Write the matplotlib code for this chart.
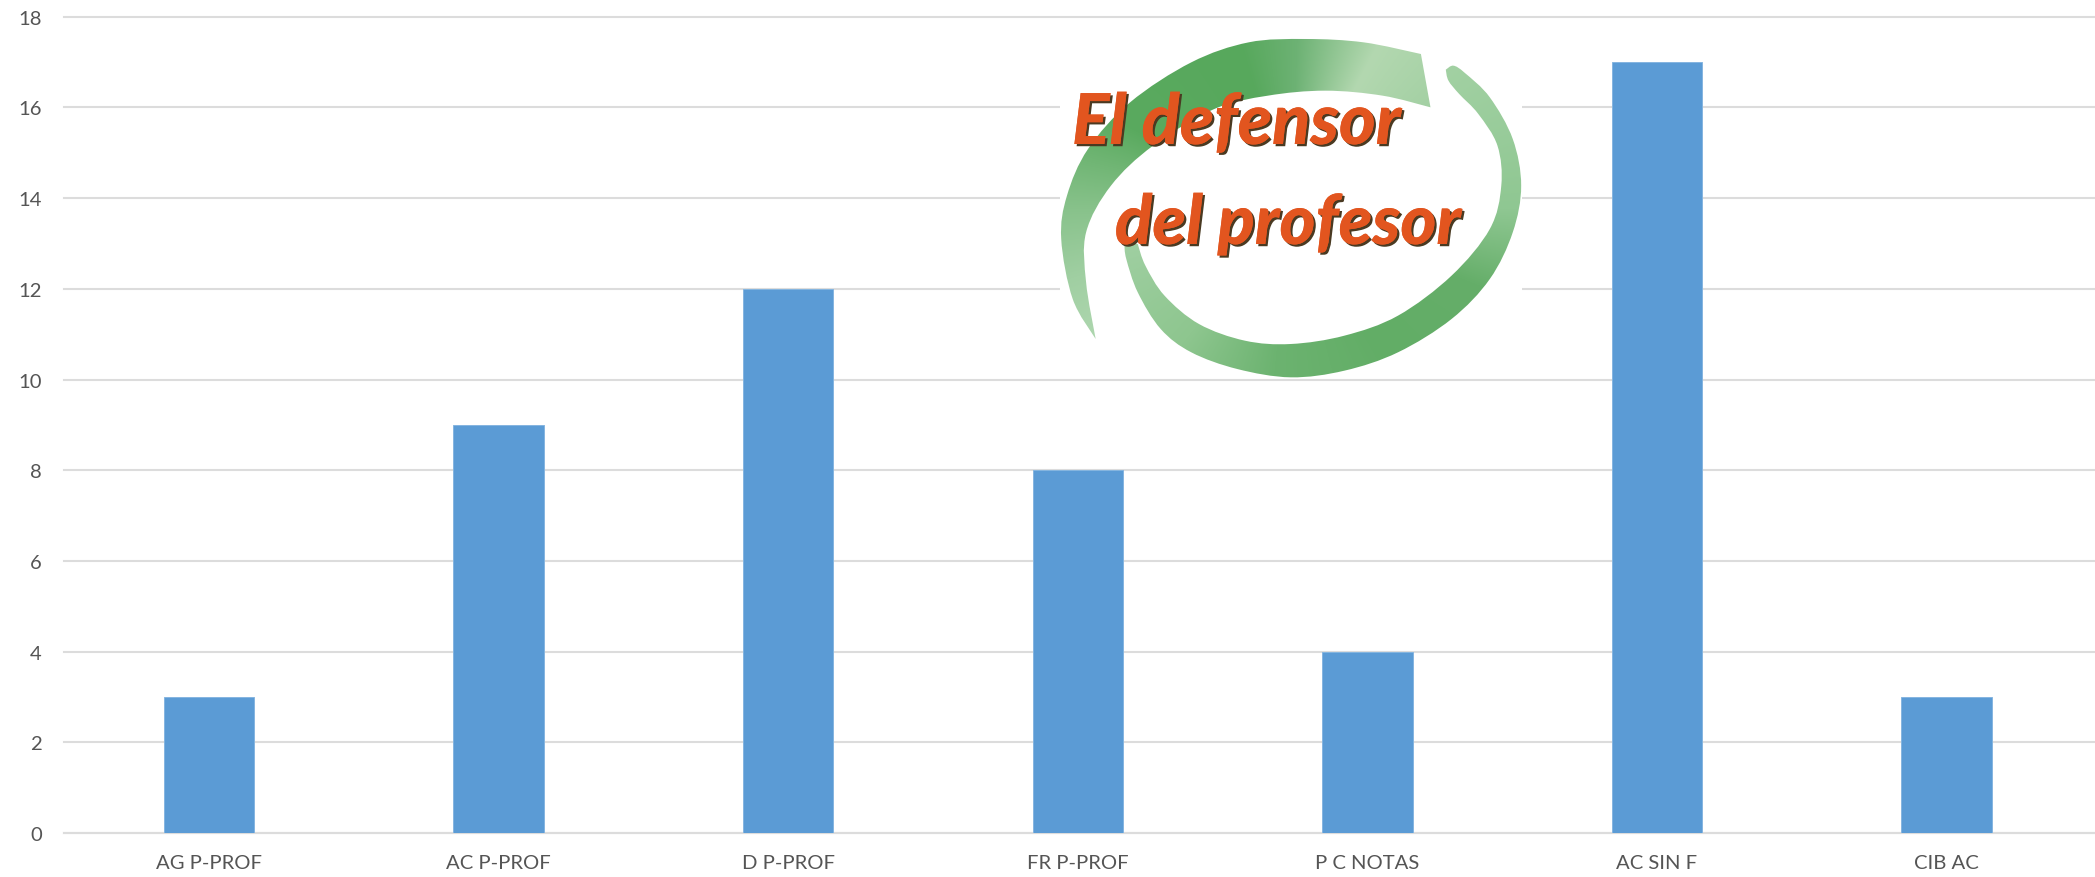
import numpy as np
import matplotlib
matplotlib.use("Agg")
import matplotlib.pyplot as plt
from matplotlib.path import Path
from matplotlib.patches import PathPatch, Rectangle
from matplotlib.colors import to_rgb
import matplotlib.patheffects as pe

categories = ["AG P-PROF", "AC P-PROF", "D P-PROF", "FR P-PROF", "P C NOTAS", "AC SIN F", "CIB AC"]
values = [3, 9, 12, 8, 4, 17, 3]
yticks = list(range(0, 19, 2))

W, H = 2095, 878
L, R, T, B = 64.2, 2095, 17.7, 834
STEP = 289.6
plt.rcParams['font.family'] = ['Lato', 'DejaVu Sans']

fig = plt.figure(figsize=(W/100, H/100), dpi=100, facecolor='white')
ax = fig.add_axes([L/W, 1-B/H, (R-L)/W, (B-T)/H])
ax.bar(range(len(values)), values, width=0.3125, color='#5b9bd5', edgecolor='#85b5e0', linewidth=0.7, zorder=3)
ax.set_xlim(-0.5, (R-L)/STEP-0.5)
ax.set_ylim(0, 18)
ax.set_yticks(yticks)
ax.set_xticks(range(len(categories)))
ax.set_xticklabels(categories)
ax.grid(axis='y', color='#dcdcdc', linewidth=1.5, zorder=0)
ax.set_axisbelow(True)
for s in ['top', 'right', 'left']:
    ax.spines[s].set_visible(False)
ax.spines['bottom'].set_color('#dcdcdc')
ax.spines['bottom'].set_linewidth(1.5)
for g in ax.get_ygridlines():
    g.set_clip_on(False)
ax.tick_params(axis='y', length=0, pad=16, labelsize=14.6, labelcolor='#555555')
ax.tick_params(axis='x', length=0, pad=15, labelsize=14.6, labelcolor='#555555')

# Logo overlay, in reference pixel coordinates
lg = fig.add_axes([0, 0, 1, 1], facecolor='none')
lg.set_xlim(0, W)
lg.set_ylim(H, 0)
lg.axis('off')
lg.add_patch(Rectangle((1060, 24), 462, 354, facecolor='white', edgecolor='none', zorder=1))

KX = 1568/600
def z(pts):
    return np.array([(1000 + x/KX, y/3) for x, y in pts], float)

def smooth(segments):
    """Closed outline from runs of points: Catmull-Rom inside a run, corners between runs."""
    verts, codes = [], []
    for k, run in enumerate(segments):
        if k == 0:
            verts.append(run[0]); codes.append(Path.MOVETO)
        else:
            verts.append(run[0]); codes.append(Path.LINETO)
        for i in range(len(run)-1):
            p0 = run[max(i-1, 0)]; p1 = run[i]; p2 = run[i+1]; p3 = run[min(i+2, len(run)-1)]
            verts += [p1+(p2-p0)/6, p2-(p3-p1)/6, p2]
            codes += [Path.CURVE4]*3
    verts.append(segments[0][0]); codes.append(Path.CLOSEPOLY)
    return Path(np.array(verts), codes)

A_outer = z([(250,1020),(190,900),(160,720),(175,590),(230,450),(340,310),(500,190),(650,130),(800,120),(950,130),(1100,165)])
A_inner = z([(1125,325),(1000,290),(850,275),(700,290),(560,330),(400,440),(290,560),(225,700),(225,850),(250,1020)])
B_outer = z([(1165,212),(1185,200),(1215,222),(1280,295),(1340,420),(1362,560),(1340,700),(1280,840),(1180,960),(1040,1060),(900,1115),(760,1135),(620,1110),(500,1060),(420,990),(360,880),(330,780),(325,735)])
B_inner = z([(360,735),(380,800),(430,890),(520,975),(640,1025),(760,1035),(900,1010),(1040,950),(1180,830),(1280,690),(1310,560),(1300,440),(1250,345),(1200,285),(1172,245),(1165,212)])

cx, cy = 1000+760/KX, 630/3
X0, X1, Y0, Y1 = 1050, 1530, 20, 385
xx, yy = np.meshgrid(np.linspace(X0, X1, 480), np.linspace(Y0, Y1, 365))
# screen angle, clockwise, 0 = right; squeezed so it follows the ellipse of the logo
theta = np.degrees(np.arctan2((yy-cy)*1.15, xx-cx)) % 360

def ramp(t, stops):
    ang = [a for a, _ in stops]
    cols = np.array([to_rgb(c) for _, c in stops])
    return np.dstack([np.interp(t, ang, cols[:, i]) for i in range(3)])

A_img = ramp(np.where(theta < 90, theta+360, theta),
             [(130,'#b8dcb8'),(160,'#a0cfa2'),(180,'#88c28b'),(210,'#5aaa5f'),(255,'#57a85c'),(272,'#6db274'),(295,'#b3d8b0'),(320,'#a3d0a3')])
B_img = ramp(np.where(theta > 200, theta-360, theta),
             [(-60,'#a8d4a8'),(0,'#8fc792'),(25,'#65ae69'),(60,'#62ad66'),(95,'#6cb370'),(125,'#8ec68f'),(165,'#9fcfa1')])

for img, outline in ((B_img, smooth([B_outer, B_inner])), (A_img, smooth([A_outer, A_inner]))):
    patch = PathPatch(outline, facecolor='none', edgecolor='none', transform=lg.transData)
    lg.add_patch(patch)
    im = lg.imshow(img, extent=(X0, X1, Y1, Y0), aspect='auto', zorder=2, interpolation='bilinear')
    im.set_clip_path(patch)
lg.set_xlim(0, W)
lg.set_ylim(H, 0)

shadow = [pe.withSimplePatchShadow(offset=(1.6, -1.6), shadow_rgbFace='#4a3a22', alpha=1.0), pe.Normal()]
lg.text(1072, 145, "El defensor", fontsize=50.5, fontweight='black', fontstyle='italic',
        color='#e2551f', ha='left', va='baseline', zorder=3, path_effects=shadow)
lg.text(1115, 245, "del profesor", fontsize=49.5, fontweight='black', fontstyle='italic',
        color='#e2551f', ha='left', va='baseline', zorder=3, path_effects=shadow)

fig.savefig("out.png", dpi=100, facecolor='white')
